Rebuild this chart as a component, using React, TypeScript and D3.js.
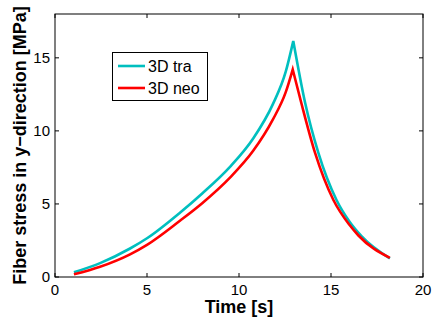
import React from "react";
import * as d3 from "d3";

const traTime = [1.03, 2.45, 4.08, 5.0, 6.79, 8.0, 9.51, 10.78, 11.83, 12.54, 12.95, 13.59, 14.31, 15.3, 16.0, 16.67, 18.2];
const traStress = [0.32, 0.95, 1.95, 2.65, 4.4, 5.72, 7.54, 9.5, 11.8, 14.05, 16.15, 11.94, 8.51, 5.27, 3.8, 2.78, 1.27];

const neoTime = [1.03, 2.45, 4.08, 5.0, 6.79, 8.0, 9.51, 10.78, 11.83, 12.54, 12.92, 13.38, 14.13, 15.13, 16.0, 16.49, 18.2];
const neoStress = [0.18, 0.7, 1.55, 2.2, 3.85, 5.05, 6.8, 8.65, 10.75, 12.65, 14.2, 11.94, 8.51, 5.27, 3.57, 2.84, 1.31];

const xTicks = [0, 5, 10, 15, 20];
const yTicks = [0, 5, 10, 15];
const seriesNames = ["3D tra", "3D neo"];
const seriesColors = ["#00BFBF", "#FF0000"];

const W = 436, H = 323;
const L = 55, R = 423, T = 14, B = 277;
const FONT = "'Liberation Sans', Arial, Helvetica, sans-serif";

export default function App() {
  const x = d3.scaleLinear().domain([0, 20]).range([L, R]);
  const y = d3.scaleLinear().domain([0, 18]).range([B, T]);

  const makePath = (ts: number[], vs: number[]) => {
    const pts: [number, number][] = ts.map((t, i) => [t, vs[i]]);
    const peak = vs.indexOf(Math.max(...vs));
    const gen = d3
      .line<[number, number]>()
      .x((d) => x(d[0]))
      .y((d) => y(d[1]))
      .curve(d3.curveMonotoneX);
    const a = gen(pts.slice(0, peak + 1)) || "";
    const b = gen(pts.slice(peak)) || "";
    return a + "L" + b.slice(1);
  };

  const paths = [makePath(traTime, traStress), makePath(neoTime, neoStress)];
  const tl = 4;

  return (
    <svg
      width={W}
      height={H}
      style={{ position: "absolute", left: 0, top: 0, background: "#fff" }}
      fontFamily={FONT}
    >
      <rect x={0} y={0} width={W} height={H} fill="#fff" />
      {paths.map((p, i) => (
        <path
          key={i}
          d={p}
          fill="none"
          stroke={seriesColors[i]}
          strokeWidth={2.6}
          strokeLinejoin="miter"
        />
      ))}
      <rect x={L} y={T} width={R - L} height={B - T} fill="none" stroke="#000" strokeWidth={1} />
      {xTicks.map((t) => (
        <g key={"x" + t}>
          <line x1={x(t)} x2={x(t)} y1={B} y2={B - tl} stroke="#000" />
          <line x1={x(t)} x2={x(t)} y1={T} y2={T + tl} stroke="#000" />
          <text x={x(t)} y={295} textAnchor="middle" fontSize={15} fill="#000">
            {t}
          </text>
        </g>
      ))}
      {yTicks.map((t) => (
        <g key={"y" + t}>
          <line x1={L} x2={L + tl} y1={y(t)} y2={y(t)} stroke="#000" />
          <line x1={R} x2={R - tl} y1={y(t)} y2={y(t)} stroke="#000" />
          <text x={50} y={y(t)} dy="0.36em" textAnchor="end" fontSize={15} fill="#000">
            {t}
          </text>
        </g>
      ))}
      <text x={(L + R) / 2} y={313} textAnchor="middle" fontSize={18} fontWeight="bold" fill="#000">
        Time [s]
      </text>
      <text
        transform={`translate(26, ${(T + B) / 2}) rotate(-90)`}
        textAnchor="middle"
        fontSize={18}
        fontWeight="bold"
        fill="#000"
      >
        Fiber stress in y−direction [MPa]
      </text>
      <rect x={112.5} y={52.5} width={95} height={48} fill="#fff" stroke="#000" strokeWidth={1} />
      {seriesNames.map((n, i) => (
        <g key={n}>
          <line x1={118} x2={145} y1={66 + i * 22} y2={66 + i * 22} stroke={seriesColors[i]} strokeWidth={2.6} />
          <text x={148} y={66 + i * 22} dy="0.36em" fontSize={16} fill="#000">
            {n}
          </text>
        </g>
      ))}
    </svg>
  );
}
